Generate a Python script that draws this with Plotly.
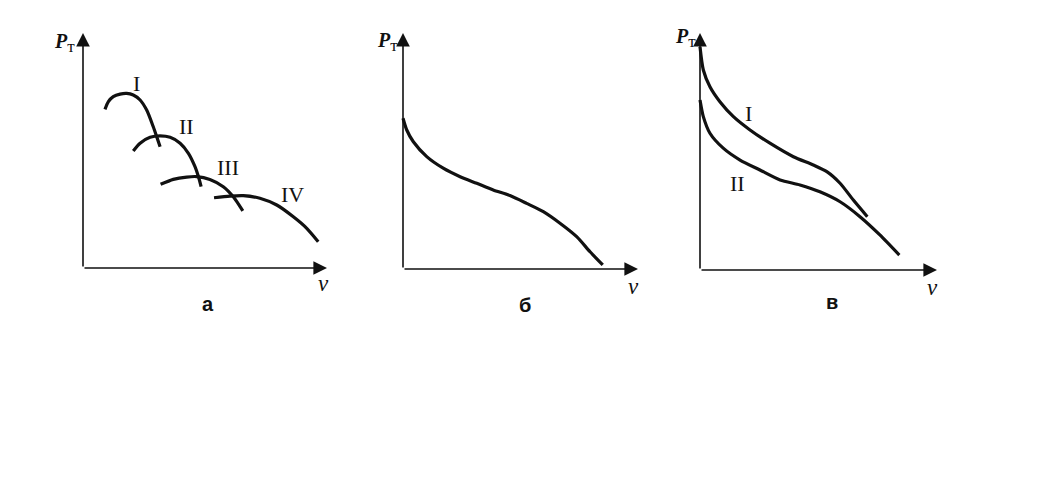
import plotly.graph_objects as go

# ---- data (arbitrary units: v on 0..10, P_T on 0..10) ----
a_I_v = [0.90, 1.04, 1.24, 1.52, 1.79, 2.06, 2.34, 2.61, 2.88, 3.02, 3.16]
a_I_p = [6.75, 7.08, 7.29, 7.40, 7.43, 7.36, 7.15, 6.72, 6.01, 5.59, 5.16]
a_II_v = [2.06, 2.34, 2.75, 3.16, 3.57, 3.98, 4.32, 4.59, 4.73, 4.84]
a_II_p = [4.98, 5.31, 5.56, 5.62, 5.56, 5.31, 4.88, 4.31, 3.89, 3.46]
a_III_v = [3.18, 3.70, 4.25, 4.66, 5.20, 5.75, 6.16, 6.55]
a_III_p = [3.56, 3.77, 3.87, 3.89, 3.77, 3.46, 3.03, 2.43]
a_IV_v = [5.37, 6.02, 6.57, 7.25, 7.94, 8.62, 9.17, 9.64]
a_IV_p = [2.99, 3.06, 3.08, 2.97, 2.68, 2.18, 1.69, 1.12]

b_v = [0.0, 0.16, 0.44, 1.01, 1.71, 2.43, 3.14, 3.84, 4.55, 5.26, 5.97, 6.68, 7.39, 7.96, 8.50]
b_p = [6.39, 5.89, 5.39, 4.76, 4.27, 3.91, 3.63, 3.35, 3.11, 2.78, 2.43, 1.94, 1.37, 0.73, 0.17]

c_I_v = [0.0, 0.14, 0.42, 0.84, 1.41, 2.11, 2.95, 3.94, 4.78, 5.35, 5.91, 6.47, 7.06]
c_I_p = [9.42, 8.44, 7.73, 7.10, 6.47, 5.91, 5.35, 4.78, 4.43, 4.15, 3.66, 2.95, 2.25]
c_II_v = [0.0, 0.14, 0.42, 0.98, 1.69, 2.53, 3.38, 4.22, 5.06, 5.91, 6.75, 7.59, 8.41]
c_II_p = [7.17, 6.47, 5.77, 5.14, 4.64, 4.22, 3.80, 3.59, 3.30, 2.88, 2.25, 1.48, 0.63]

axis_end = 10  # axis extent in units (both axes run 0..10)

curve_labels_a = ["I", "II", "III", "IV"]
curve_labels_c = ["I", "II"]
panel_letters = ["а", "б", "в"]

INK = "#111111"
W, H = 1037, 485
OFF = 8  # page body margin offset

fig = go.Figure()

def add_curve(v, p, ax):
    fig.add_trace(go.Scatter(x=v, y=p, mode="lines", xaxis="x" + ax, yaxis="y" + ax,
                             line=dict(color=INK, width=3.2, shape="spline", smoothing=0.7),
                             hoverinfo="skip", showlegend=False))

for v, p in [(a_I_v, a_I_p), (a_II_v, a_II_p), (a_III_v, a_III_p), (a_IV_v, a_IV_p)]:
    add_curve(v, p, "")
add_curve(b_v, b_p, "2")
for v, p in [(c_I_v, c_I_p), (c_II_v, c_II_p)]:
    add_curve(v, p, "3")

# panel pixel frames: (origin_x, x_end, origin_y, y_top); axis unit range 0..10 spans them
frames = [(83, 327, 268, 33), (403, 638, 269, 33), (700, 937, 270, 33)]
XR = (-1.6, 11.0)
YR = (-2.4, 10.8)
layout = dict(width=W, height=H, margin=dict(l=0, r=0, t=0, b=0),
              paper_bgcolor="white", plot_bgcolor="rgba(0,0,0,0)", showlegend=False)
for i, (x0, x1, y0, y1) in enumerate(frames):
    x0 -= OFF; x1 -= OFF; y0 -= OFF; y1 -= OFF
    sx = (x1 - x0) / 10.0
    sy = (y0 - y1) / 10.0
    left = x0 + XR[0] * sx
    right = x0 + XR[1] * sx
    bottom = y0 - YR[0] * sy
    top = y0 - YR[1] * sy
    sfx = "" if i == 0 else str(i + 1)
    layout["xaxis" + sfx] = dict(domain=[left / W, right / W], range=list(XR), visible=False,
                                 anchor="y" + sfx, fixedrange=True)
    layout["yaxis" + sfx] = dict(domain=[1 - bottom / H, 1 - top / H], range=list(YR), visible=False,
                                 anchor="x" + sfx, fixedrange=True)
fig.update_layout(**layout)

anns = []
serif = "Liberation Serif"
for i in range(3):
    sfx = "" if i == 0 else str(i + 1)
    xr, yr = "x" + sfx, "y" + sfx
    for (tx, ty) in [(axis_end, 0), (0, axis_end)]:
        anns.append(dict(x=tx, y=ty, ax=0, ay=0, xref=xr, yref=yr, axref=xr, ayref=yr,
                         text="", showarrow=True, arrowhead=2, arrowsize=1.7, arrowwidth=1.6,
                         arrowcolor=INK, standoff=0, startstandoff=0))

pt_pos = [(-0.74, 9.57), (-0.68, 9.62), (-0.63, 9.79)]
v_pos = [(9.84, -0.64), (9.79, -0.76), (9.79, -0.72)]
let_pos = [(5.12, -1.53), (5.19, -1.53), (5.57, -1.35)]
for i in range(3):
    sfx = "" if i == 0 else str(i + 1)
    xr, yr = "x" + sfx, "y" + sfx
    anns.append(dict(x=pt_pos[i][0], y=pt_pos[i][1], xref=xr, yref=yr, showarrow=False,
                     text="<b><i>P</i></b><sub><span style='font-size:17px'>т</span></sub>",
                     font=dict(family=serif, size=20, color=INK)))
    anns.append(dict(x=v_pos[i][0], y=v_pos[i][1], xref=xr, yref=yr, showarrow=False,
                     text="<i>v</i>", font=dict(family=serif, size=23, color=INK)))
    anns.append(dict(x=let_pos[i][0], y=let_pos[i][1], xref=xr, yref=yr, showarrow=False,
                     text="<b>" + panel_letters[i] + "</b>",
                     font=dict(family="Liberation Sans", size=20, color=INK)))

a_lab_pos = [(2.21, 7.87), (4.26, 6.0), (5.94, 4.26), (8.57, 3.11)]
for t, (x, y) in zip(curve_labels_a, a_lab_pos):
    anns.append(dict(x=x, y=y, xref="x", yref="y", showarrow=False, text=t,
                     font=dict(family=serif, size=22, color=INK)))
c_lab_pos = [(2.03, 6.62), (1.60, 3.67)]
for t, (x, y) in zip(curve_labels_c, c_lab_pos):
    anns.append(dict(x=x, y=y, xref="x3", yref="y3", showarrow=False, text=t,
                     font=dict(family=serif, size=22, color=INK)))

fig.update_layout(annotations=anns)
fig.write_html("out.html")
